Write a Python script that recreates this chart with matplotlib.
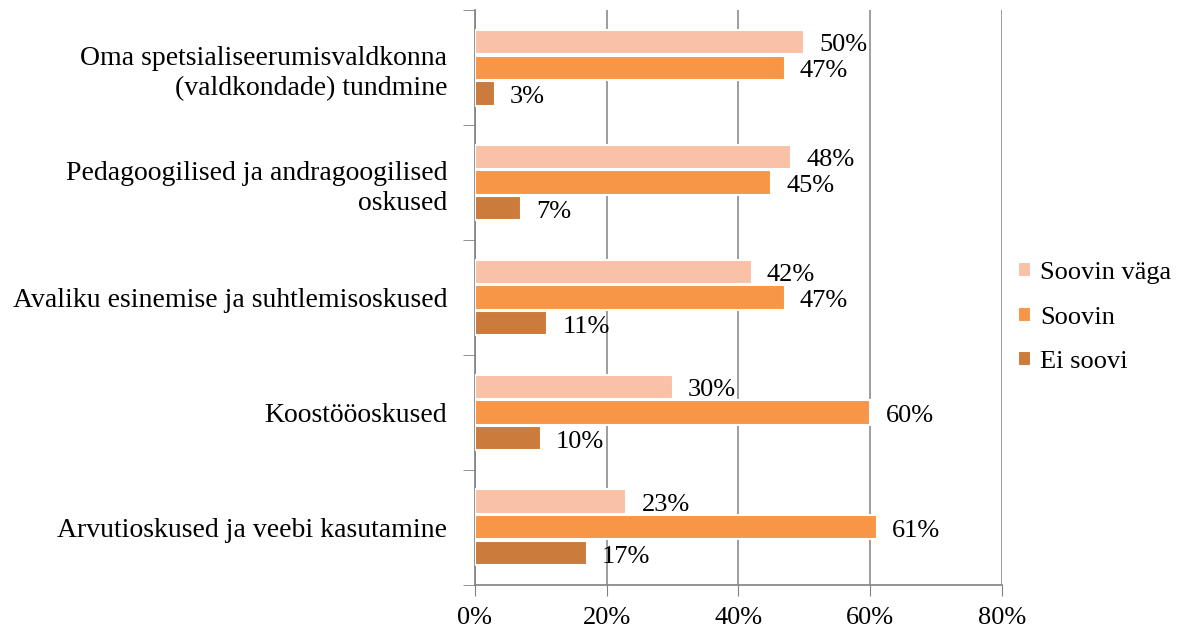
import numpy as np
import matplotlib
matplotlib.use('Agg')
import matplotlib.pyplot as plt

# andmed
categories = ['Oma spetsialiseerumisvaldkonna\n(valdkondade) tundmine',
              'Pedagoogilised ja andragoogilised\noskused',
              'Avaliku esinemise ja suhtlemisoskused',
              'Koostööoskused',
              'Arvutioskused ja veebi kasutamine']
soovin_vaga = [50, 48, 42, 30, 23]
soovin = [47, 45, 47, 60, 61]
ei_soovi = [3, 7, 11, 10, 17]
series_names = ['Soovin väga', 'Soovin', 'Ei soovi']
x_ticks = [0, 20, 40, 60, 80]

colors = ['#F9C2A7', '#F79646', '#CB7B3B']

plt.rcParams['font.family'] = ['Liberation Serif', 'DejaVu Serif']

fig = plt.figure(figsize=(11.83, 6.35), dpi=100)
ax = fig.add_axes([0.4015, 0.079, 0.4455, 0.905])

y = np.arange(len(categories))
h = 0.21
offsets = [-0.225, 0, 0.225]
for vals, off, col, name in zip([soovin_vaga, soovin, ei_soovi], offsets, colors, series_names):
    bars = ax.barh(y + off, vals, height=h, color=col, edgecolor='white', linewidth=1.5,
                   label=name, zorder=3)
    for b, v in zip(bars, vals):
        ax.text(v + 2.3, b.get_y() + b.get_height() / 2 + 0.03, f'{v}%', va='center', ha='left',
                fontsize=19, zorder=4)

ax.set_ylim(len(categories) - 0.5, -0.5)
ax.set_xlim(0, 80)
ax.set_xticks(x_ticks)
ax.set_xticklabels([f'{t}%' for t in x_ticks], fontsize=19)
ax.set_yticks(y)
ax.set_yticklabels(categories, fontsize=20, ha='right', multialignment='right', linespacing=1.3)
ax.set_yticks(np.arange(len(categories) + 1) - 0.5, minor=True)
ax.tick_params(axis='y', which='major', length=0, pad=20)
ax.tick_params(axis='y', which='minor', length=9, color='#808080')
ax.tick_params(axis='x', length=8, color='#808080', pad=8)

ax.grid(axis='x', color='#8c8c8c', linewidth=1.2, zorder=0)
for s in ['top', 'right']:
    ax.spines[s].set_visible(False)
ax.spines['left'].set_color('#808080')
ax.spines['bottom'].set_color('#808080')
ax.spines['left'].set_linewidth(1.2)
ax.spines['bottom'].set_linewidth(1.2)

ax.legend(loc='center left', bbox_to_anchor=(1.0, 0.465), frameon=False, fontsize=19,
          handlelength=0.5, handleheight=0.5, handletextpad=0.35, labelspacing=0.85,
          borderaxespad=0.2)

plt.savefig('out.png', dpi=100)
